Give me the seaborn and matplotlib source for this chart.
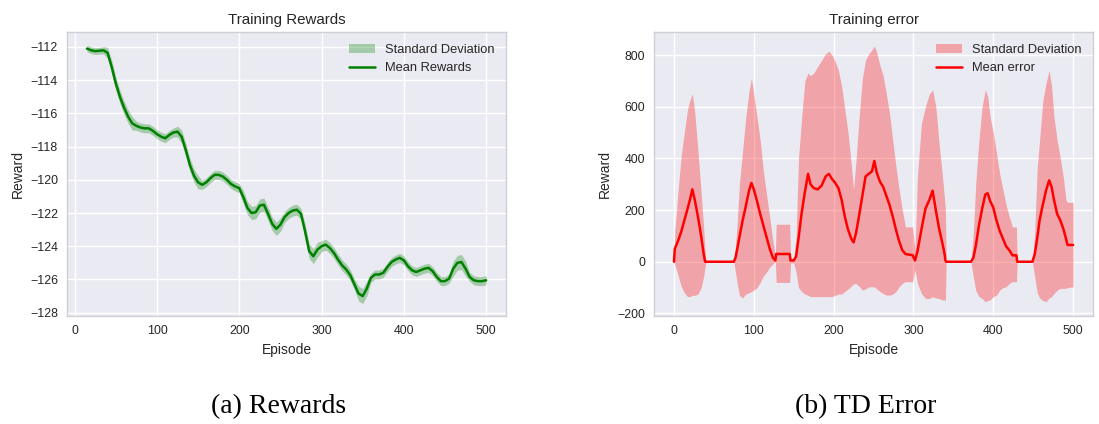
import matplotlib
matplotlib.use("Agg")
import matplotlib.pyplot as plt
import numpy as np
import pandas as pd
import seaborn as sns

# ---- Training rewards (smoothed mean and standard deviation) ----
reward_episodes = list(range(15, 501, 5))
reward_mean = [
    -112.10, -112.20, -112.25, -112.23, -112.20, -112.35, -113.20, -114.20, -115.00, -115.65,
    -116.20, -116.60, -116.75, -116.85, -116.90, -116.90, -117.05, -117.25, -117.40, -117.50,
    -117.30, -117.15, -117.10, -117.40, -118.20, -119.10, -119.75, -120.15, -120.30, -120.15,
    -119.90, -119.70, -119.70, -119.80, -120.00, -120.25, -120.40, -120.50, -121.05, -121.70,
    -122.00, -121.95, -121.55, -121.50, -122.05, -122.65, -122.95, -122.70, -122.25, -122.00,
    -121.85, -121.80, -122.05, -123.10, -124.30, -124.60, -124.20, -124.00, -123.90, -124.10,
    -124.40, -124.80, -125.15, -125.40, -125.75, -126.30, -126.85, -127.00, -126.55, -125.90,
    -125.70, -125.70, -125.60, -125.25, -124.95, -124.80, -124.70, -124.85, -125.20, -125.45,
    -125.55, -125.45, -125.35, -125.30, -125.50, -125.85, -126.10, -126.10, -125.95, -125.35,
    -125.00, -124.95, -125.35, -125.85, -126.05, -126.10, -126.10, -126.05,
]
reward_std = [
    0.20, 0.20, 0.20, 0.20, 0.22, 0.33, 0.40, 0.40, 0.40, 0.40,
    0.40, 0.40, 0.27, 0.27, 0.27, 0.27, 0.27, 0.27, 0.27, 0.27,
    0.27, 0.27, 0.33, 0.40, 0.40, 0.40, 0.40, 0.40, 0.27, 0.27,
    0.27, 0.27, 0.27, 0.27, 0.27, 0.27, 0.27, 0.27, 0.40, 0.40,
    0.40, 0.40, 0.40, 0.40, 0.40, 0.40, 0.40, 0.40, 0.33, 0.33,
    0.33, 0.33, 0.33, 0.45, 0.45, 0.45, 0.45, 0.33, 0.33, 0.33,
    0.33, 0.33, 0.33, 0.33, 0.33, 0.33, 0.45, 0.45, 0.45, 0.27,
    0.27, 0.27, 0.27, 0.27, 0.27, 0.27, 0.27, 0.27, 0.27, 0.27,
    0.27, 0.27, 0.27, 0.27, 0.27, 0.27, 0.27, 0.27, 0.27, 0.45,
    0.45, 0.45, 0.45, 0.27, 0.27, 0.27, 0.27, 0.27,
]

# ---- TD error (mean with lower / upper deviation bounds) ----
error_episodes = [
    0, 1, 3, 5, 9, 13, 17, 20, 23, 26, 30, 34, 37, 39, 40,
    75, 77, 79, 82, 86, 90, 94, 97, 100, 104, 108, 112, 116, 120, 124, 127,
    128, 145, 146, 150,
    153, 156, 160, 164, 168, 171, 175, 180, 185, 190, 194, 198, 202, 206, 210,
    214, 218, 222, 225,
    228, 232, 236, 240, 244, 248, 251, 254, 258, 262, 266, 270, 274, 278, 282,
    286, 290, 299,
    302, 305, 310, 315, 320, 324, 328, 332, 336, 339, 340, 341,
    372, 375, 378, 382, 386, 390, 393, 396, 400, 404, 408, 412, 416, 420, 424,
    429, 430,
    449, 452, 455, 458, 462, 466, 470, 473, 476, 480, 484, 488, 491, 493, 500,
]
error_mean = [
    0, 50, 65, 80, 115, 160, 205, 240, 280, 240, 175, 100, 35, 0, 0,
    0, 15, 45, 95, 160, 215, 275, 305, 280, 235, 185, 140, 95, 50, 15, 5,
    30, 30, 5, 5,
    20, 90, 190, 270, 340, 300, 285, 280, 295, 330, 340, 320, 305, 285, 240,
    175, 125, 90, 75,
    110, 180, 255, 330, 340, 350, 390, 345, 310, 290, 255, 220, 175, 125, 80,
    45, 30, 25,
    5, 40, 125, 205, 240, 275, 200, 130, 75, 30, 5, 0,
    0, 15, 60, 140, 205, 260, 265, 235, 210, 160, 120, 90, 60, 45, 25,
    25, 0,
    0, 30, 90, 160, 220, 275, 315, 290, 240, 185, 160, 125, 90, 65, 65,
]
error_low = [
    0, -10, -30, -50, -95, -120, -135, -135, -130, -130, -125, -100, -60, -20, 0,
    0, -40, -80, -130, -140, -125, -120, -115, -110, -100, -80, -55, -40, -20, -8, 0,
    -80, -80, -5, -5,
    -40, -100, -115, -125, -130, -135, -135, -135, -135, -135, -135, -135, -130, -125, -125,
    -115, -105, -95, -85,
    -85, -95, -110, -105, -97, -97, -97, -105, -115, -123, -129, -129, -125, -115, -97,
    -84, -77, -77,
    -30, -84, -123, -142, -142, -135, -140, -142, -148, -148, -148, 0,
    0, -60, -110, -135, -142, -155, -150, -148, -135, -129, -110, -100, -97, -84, -77,
    -77, 0,
    0, -60, -120, -140, -150, -155, -140, -135, -123, -110, -103, -103, -103, -100, -97,
]
error_high = [
    0, 120, 190, 270, 410, 500, 590, 625, 650, 580, 430, 270, 140, 40, 0,
    0, 60, 140, 300, 430, 560, 660, 710, 650, 560, 470, 350, 260, 170, 80, 20,
    145, 145, 10, 10,
    100, 400, 560, 700, 730, 720, 730, 755, 780, 805, 815, 800, 775, 740, 680,
    590, 500, 380, 280,
    390, 560, 710, 780, 805, 820, 835, 810, 760, 720, 650, 575, 470, 370, 280,
    200, 135, 135,
    40, 330, 535, 600, 650, 665, 600, 460, 340, 240, 200, 0,
    0, 110, 300, 470, 600, 665, 640, 560, 500, 420, 340, 280, 220, 175, 135,
    135, 0,
    0, 120, 360, 470, 620, 690, 740, 680, 560, 470, 400, 320, 240, 230, 230,
]

rewards = pd.DataFrame({"Episode": reward_episodes, "Reward": reward_mean,
                        "std": reward_std})
errors = pd.DataFrame({"Episode": error_episodes, "Error": error_mean,
                       "low": error_low, "high": error_high})

sns.set_theme(style="darkgrid")
plt.rcParams["font.family"] = ["Liberation Sans", "DejaVu Sans"]
plt.rcParams.update({
    "axes.edgecolor": "#cfcfd6",
    "axes.linewidth": 1.0,
    "grid.color": "white",
    "grid.linewidth": 1.0,
    "text.color": ".15",
    "axes.labelcolor": ".15",
    "xtick.color": ".15",
    "ytick.color": ".15",
})

fig = plt.figure(figsize=(10.99, 4.24), dpi=100)
ax1 = fig.add_axes([0.061, 0.2547, 0.3995, 0.6698])
ax2 = fig.add_axes([0.5951, 0.2547, 0.3995, 0.6698])

TICK = 8.9
LABEL = 10.0
TITLE = 10.9
LEGEND = 9.3

# Rewards panel
band1 = ax1.fill_between(rewards["Episode"],
                         rewards["Reward"] - rewards["std"],
                         rewards["Reward"] + rewards["std"],
                         color="green", alpha=0.3, linewidth=0,
                         label="Standard Deviation")
sns.lineplot(data=rewards, x="Episode", y="Reward", color="green",
             linewidth=1.8, label="Mean Rewards", ax=ax1)
line1 = ax1.get_lines()[0]
ax1.legend(handles=[band1, line1], labels=["Standard Deviation", "Mean Rewards"],
           loc="upper right", frameon=False, fontsize=LEGEND)
ax1.set_ylim(-128.2, -111.1)
ax1.set_yticks(np.arange(-128, -111, 2))
ax1.set_xticks([0, 100, 200, 300, 400, 500])
ax1.set_title("Training Rewards", fontsize=TITLE)
ax1.set_ylabel("Reward", fontsize=LABEL)
ax1.set_xlabel("Episode", fontsize=LABEL)

# TD error panel
band2 = ax2.fill_between(errors["Episode"], errors["low"], errors["high"],
                         color="red", alpha=0.3, linewidth=0,
                         label="Standard Deviation")
sns.lineplot(data=errors, x="Episode", y="Error", color="red",
             linewidth=1.8, label="Mean error", ax=ax2)
line2 = ax2.get_lines()[0]
ax2.legend(handles=[band2, line2], labels=["Standard Deviation", "Mean error"],
           loc="upper right", frameon=False, fontsize=LEGEND)
ax2.set_ylim(-210, 889)
ax2.set_yticks([-200, 0, 200, 400, 600, 800])
ax2.set_xticks([0, 100, 200, 300, 400, 500])
ax2.set_title("Training error", fontsize=TITLE)
ax2.set_ylabel("Reward", fontsize=LABEL)
ax2.set_xlabel("Episode", fontsize=LABEL)

for ax in (ax1, ax2):
    ax.tick_params(axis="both", length=0, pad=6.5, labelsize=TICK)
    for s in ax.spines.values():
        s.set_visible(True)
        s.set_color("#cfcfd6")

fig.text(0.2539, 0.026, "(a) Rewards", ha="center", va="baseline",
         fontsize=20, family=["Liberation Serif", "DejaVu Serif"], color="black")
fig.text(0.788, 0.026, "(b) TD Error", ha="center", va="baseline",
         fontsize=20, family=["Liberation Serif", "DejaVu Serif"], color="black")

fig.savefig("out.png", dpi=100)
